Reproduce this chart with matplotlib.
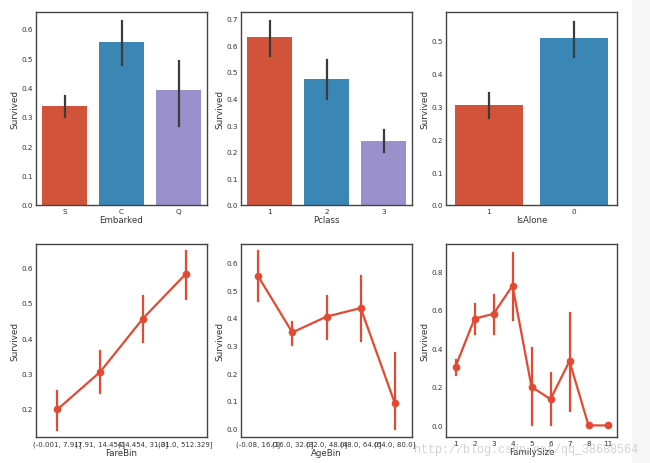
import matplotlib
matplotlib.use("Agg")
import matplotlib.pyplot as plt
from matplotlib.patches import Rectangle

# bar charts (top row)
embarked = ["S", "C", "Q"]
embarked_mean = [0.337, 0.554, 0.390]
embarked_lo = [0.300, 0.475, 0.270]
embarked_hi = [0.370, 0.625, 0.490]

pclass = ["1", "2", "3"]
pclass_mean = [0.630, 0.473, 0.242]
pclass_lo = [0.560, 0.400, 0.200]
pclass_hi = [0.690, 0.545, 0.280]

isalone = ["1", "0"]
isalone_mean = [0.304, 0.506]
isalone_lo = [0.265, 0.450]
isalone_hi = [0.340, 0.555]

# point plots (bottom row)
farebin = ["(-0.001, 7.91]", "(7.91, 14.454]", "(14.454, 31.0]", "(31.0, 512.329]"]
fare_mean = [0.198, 0.304, 0.455, 0.581]
fare_lo = [0.140, 0.245, 0.390, 0.510]
fare_hi = [0.250, 0.363, 0.520, 0.645]

agebin = ["(-0.08, 16.0]", "(16.0, 32.0]", "(32.0, 48.0]", "(48.0, 64.0]", "(64.0, 80.0]"]
age_mean = [0.550, 0.347, 0.404, 0.435, 0.091]
age_lo = [0.460, 0.300, 0.325, 0.315, 0.000]
age_hi = [0.640, 0.385, 0.480, 0.550, 0.273]

famsize = ["1", "2", "3", "4", "5", "6", "7", "8", "11"]
fam_mean = [0.304, 0.553, 0.578, 0.724, 0.200, 0.136, 0.333, 0.0, 0.0]
fam_lo = [0.260, 0.475, 0.475, 0.545, 0.000, 0.000, 0.077, 0.0, 0.0]
fam_hi = [0.340, 0.630, 0.675, 0.895, 0.400, 0.273, 0.583, 0.0, 0.0]

bar_colors = ["#d1533a", "#3a87b5", "#9990cc"]
line_color = "#e24a33"
text_color = "#333333"

plt.rcParams["font.family"] = "DejaVu Sans"
fig = plt.figure(figsize=(6.5, 4.64), dpi=100)
fig.patch.set_facecolor("white")
fig.patches.append(Rectangle((632 / 650, 0), 18 / 650, 1, transform=fig.transFigure,
                             facecolor="#f6f6f7", edgecolor="none", zorder=-1))

W, H = 650, 464
lefts = [36, 241, 446]
width = 171
tops = [13, 245]
height = 193


def make_ax(col, row):
    l = lefts[col] / W
    b = 1 - (tops[row] + height) / H
    ax = fig.add_axes([l, b, width / W, height / H])
    for s in ax.spines.values():
        s.set_color("#444444")
        s.set_linewidth(1.0)
    ax.tick_params(length=0, labelsize=5.2, colors=text_color, pad=2)
    return ax


def bar_panel(ax, cats, mean, lo, hi, xlabel, ylim, yticks):
    x = list(range(len(cats)))
    ax.bar(x, mean, width=0.8, color=bar_colors[:len(cats)])
    for xi, a, b in zip(x, lo, hi):
        ax.plot([xi, xi], [a, b], color="#3b3b3b", lw=1.6)
    ax.set_xticks(x)
    ax.set_xticklabels(cats)
    ax.set_xlim(-0.5, len(cats) - 0.5)
    ax.set_ylim(*ylim)
    ax.set_yticks(yticks)
    ax.set_xlabel(xlabel, fontsize=6.2, color=text_color, labelpad=1)
    ax.set_ylabel("Survived", fontsize=6.4, color=text_color, labelpad=2)


def point_panel(ax, cats, mean, lo, hi, xlabel, ylim, yticks, ticksize=5.2):
    x = list(range(len(cats)))
    for xi, a, b in zip(x, lo, hi):
        ax.plot([xi, xi], [a, b], color=line_color, lw=1.6)
    ax.plot(x, mean, color=line_color, lw=1.6, marker="o", markersize=4.5)
    ax.set_xticks(x)
    ax.set_xticklabels(cats, fontsize=ticksize)
    ax.set_xlim(-0.5, len(cats) - 0.5)
    ax.set_ylim(*ylim)
    ax.set_yticks(yticks)
    ax.set_xlabel(xlabel, fontsize=6.2, color=text_color, labelpad=1)
    ax.set_ylabel("Survived", fontsize=6.4, color=text_color, labelpad=2)


ax = make_ax(0, 0)
bar_panel(ax, embarked, embarked_mean, embarked_lo, embarked_hi, "Embarked",
          (0, 0.657), [0, 0.1, 0.2, 0.3, 0.4, 0.5, 0.6])
ax = make_ax(1, 0)
bar_panel(ax, pclass, pclass_mean, pclass_lo, pclass_hi, "Pclass",
          (0, 0.725), [0, 0.1, 0.2, 0.3, 0.4, 0.5, 0.6, 0.7])
ax = make_ax(2, 0)
bar_panel(ax, isalone, isalone_mean, isalone_lo, isalone_hi, "IsAlone",
          (0, 0.585), [0, 0.1, 0.2, 0.3, 0.4, 0.5])

ax = make_ax(0, 1)
point_panel(ax, farebin, fare_mean, fare_lo, fare_hi, "FareBin",
            (0.12, 0.666), [0.2, 0.3, 0.4, 0.5, 0.6], ticksize=5.0)
ax = make_ax(1, 1)
point_panel(ax, agebin, age_mean, age_lo, age_hi, "AgeBin",
            (-0.030, 0.666), [0, 0.1, 0.2, 0.3, 0.4, 0.5, 0.6], ticksize=5.0)
ax = make_ax(2, 1)
point_panel(ax, famsize, fam_mean, fam_lo, fam_hi, "FamilySize",
            (-0.06, 0.94), [0, 0.2, 0.4, 0.6, 0.8])

# watermark
fig.text(526 / W, 1 - 450 / H, "http://blog.csdn.net/qq_38688564", ha="center", va="center",
         fontsize=8.5, family="Liberation Mono", color="#c8c8c8", alpha=0.8)

fig.savefig("out.png", dpi=100)
